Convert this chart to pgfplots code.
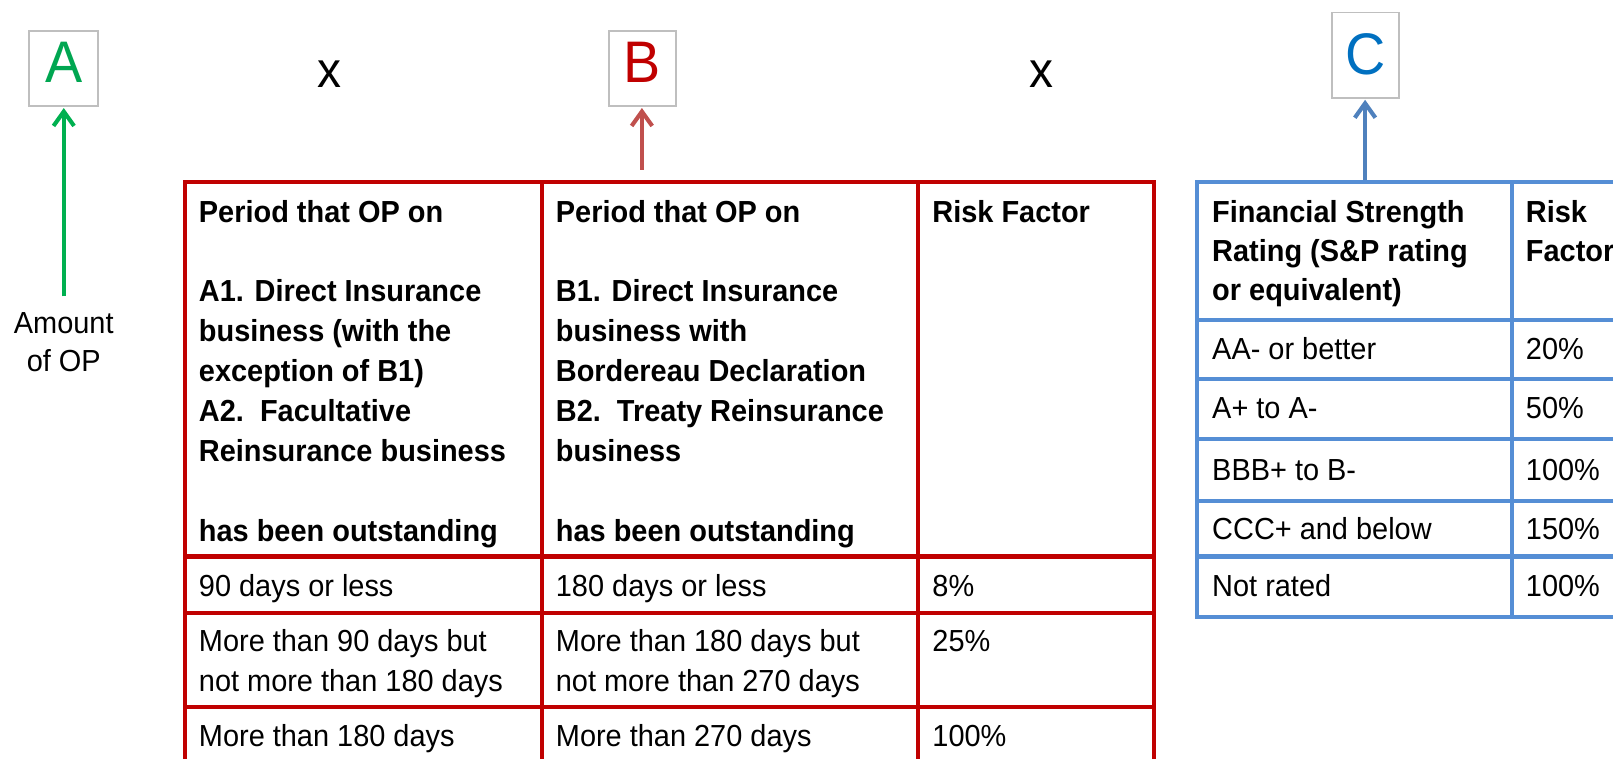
\documentclass[border=0pt]{standalone}
\usepackage{fontspec}
\setmainfont{Liberation Sans}[FakeStretch=0.95]
\usepackage{pgfplots}
\pgfplotsset{compat=1.18}
\usetikzlibrary{arrows.meta}
\definecolor{tred}{HTML}{C00000}
\definecolor{tblue}{HTML}{558ED5}
\definecolor{agreen}{HTML}{00A651}
\definecolor{arrgreen}{HTML}{00B050}
\definecolor{arrred}{HTML}{C0504D}
\definecolor{arrblue}{HTML}{4F81BD}
\definecolor{cblue}{HTML}{0070C0}
\definecolor{boxgray}{HTML}{BFBFBF}
\newcommand{\T}[3]{\node[anchor=base west,inner sep=0pt,font=\fontsize{14.8bp}{17bp}\selectfont] at (axis cs:#1,#2) {#3};}
\newcommand{\TB}[3]{\node[anchor=base west,inner sep=0pt,font=\fontsize{14.8bp}{17bp}\selectfont\bfseries] at (axis cs:#1,#2) {#3};}
\begin{document}
\begin{tikzpicture}
\begin{axis}[name=ax, scale only axis, width=784bp, height=368.5bp,
  xmin=0, xmax=1568, ymin=0, ymax=737, y dir=reverse, hide axis, clip=false]
% label boxes
\draw[boxgray, line width=0.8bp] (axis cs:28,30) rectangle (axis cs:95,103);
\draw[boxgray, line width=0.8bp] (axis cs:592,30) rectangle (axis cs:657,103);
\draw[boxgray, line width=0.8bp] (axis cs:1295,12) rectangle (axis cs:1360,95);
\node[anchor=base, inner sep=0pt, font=\fontsize{28.5bp}{28bp}\selectfont, text=agreen] at (axis cs:62,80) {A};
\node[anchor=base, inner sep=0pt, font=\fontsize{28.5bp}{28bp}\selectfont, text=tred] at (axis cs:624.5,80) {B};
\node[anchor=base, inner sep=0pt, font=\fontsize{28.5bp}{28bp}\selectfont, text=cblue] at (axis cs:1327.5,72) {C};
\node[anchor=base, inner sep=0pt, font=\fontsize{24.5bp}{24bp}\selectfont] at (axis cs:320,85) {x};
\node[anchor=base, inner sep=0pt, font=\fontsize{24.5bp}{24bp}\selectfont] at (axis cs:1012,85) {x};
% arrows
\draw[arrgreen, line width=2bp, -{Straight Barb[length=7bp,width=10bp]}] (axis cs:62,288) -- (axis cs:62,105);
\draw[arrred, line width=2bp, -{Straight Barb[length=7bp,width=10bp]}] (axis cs:624,165) -- (axis cs:624,105);
\draw[arrblue, line width=2bp, -{Straight Barb[length=7bp,width=10bp]}] (axis cs:1327,176) -- (axis cs:1327,97);
\node[anchor=base, inner sep=0pt, font=\fontsize{14.8bp}{17bp}\selectfont] at (axis cs:62,324) {Amount};
\node[anchor=base, inner sep=0pt, font=\fontsize{14.8bp}{17bp}\selectfont] at (axis cs:62,361) {of OP};
% red table
\draw[tred, line width=2bp] (axis cs:180,770) -- (axis cs:180,177) -- (axis cs:1122,177) -- (axis cs:1122,770);
\draw[tred, line width=2bp] (axis cs:527,177) -- (axis cs:527,770);
\draw[tred, line width=2bp] (axis cs:892,177) -- (axis cs:892,770);
\draw[tred, line width=2bp] (axis cs:180,541) -- (axis cs:1122,541);
\draw[tred, line width=2bp] (axis cs:180,596) -- (axis cs:1122,596);
\draw[tred, line width=2bp] (axis cs:180,687) -- (axis cs:1122,687);
\TB{193}{216}{Period that OP on}
\TB{193}{293}{A1. Direct Insurance}
\TB{193}{332}{business (with the}
\TB{193}{371}{exception of B1)}
\TB{193}{410}{A2.\ \ Facultative}
\TB{193}{449}{Reinsurance business}
\TB{193}{526}{has been outstanding}
\TB{540}{216}{Period that OP on}
\TB{540}{293}{B1. Direct Insurance}
\TB{540}{332}{business with}
\TB{540}{371}{Bordereau Declaration}
\TB{540}{410}{B2.\ \ Treaty Reinsurance}
\TB{540}{449}{business}
\TB{540}{526}{has been outstanding}
\TB{906}{216}{Risk Factor}
\T{193}{580}{90 days or less}
\T{540}{580}{180 days or less}
\T{906}{580}{8\%}
\T{193}{633.5}{More than 90 days but}
\T{193}{672.5}{not more than 180 days}
\T{540}{633.5}{More than 180 days but}
\T{540}{672.5}{not more than 270 days}
\T{906}{633.5}{25\%}
\T{193}{726}{More than 180 days}
\T{540}{726}{More than 270 days}
\T{906}{726}{100\%}
% blue table
\draw[tblue, line width=2bp] (axis cs:1620,177) -- (axis cs:1164,177) -- (axis cs:1164,600) -- (axis cs:1620,600);
\draw[tblue, line width=2bp] (axis cs:1470,177) -- (axis cs:1470,600);
\draw[tblue, line width=2bp] (axis cs:1164,311) -- (axis cs:1620,311);
\draw[tblue, line width=2bp] (axis cs:1164,368) -- (axis cs:1620,368);
\draw[tblue, line width=2bp] (axis cs:1164,427) -- (axis cs:1620,427);
\draw[tblue, line width=2bp] (axis cs:1164,487) -- (axis cs:1620,487);
\draw[tblue, line width=2bp] (axis cs:1164,541) -- (axis cs:1620,541);
\TB{1178}{216}{Financial Strength}
\TB{1178}{254}{Rating (S\&P rating}
\TB{1178}{292}{or equivalent)}
\TB{1483}{216}{Risk}
\TB{1483}{254}{Factor}
\T{1178}{349}{AA- or better}
\T{1483}{349}{20\%}
\T{1178}{407}{A+ to A-}
\T{1483}{407}{50\%}
\T{1178}{467}{BBB+ to B-}
\T{1483}{467}{100\%}
\T{1178}{524}{CCC+ and below}
\T{1483}{524}{150\%}
\T{1178}{580}{Not rated}
\T{1483}{580}{100\%}
\end{axis}
\pgfresetboundingbox
\path[use as bounding box] (ax.south west) rectangle (ax.north east);
\end{tikzpicture}
\end{document}
